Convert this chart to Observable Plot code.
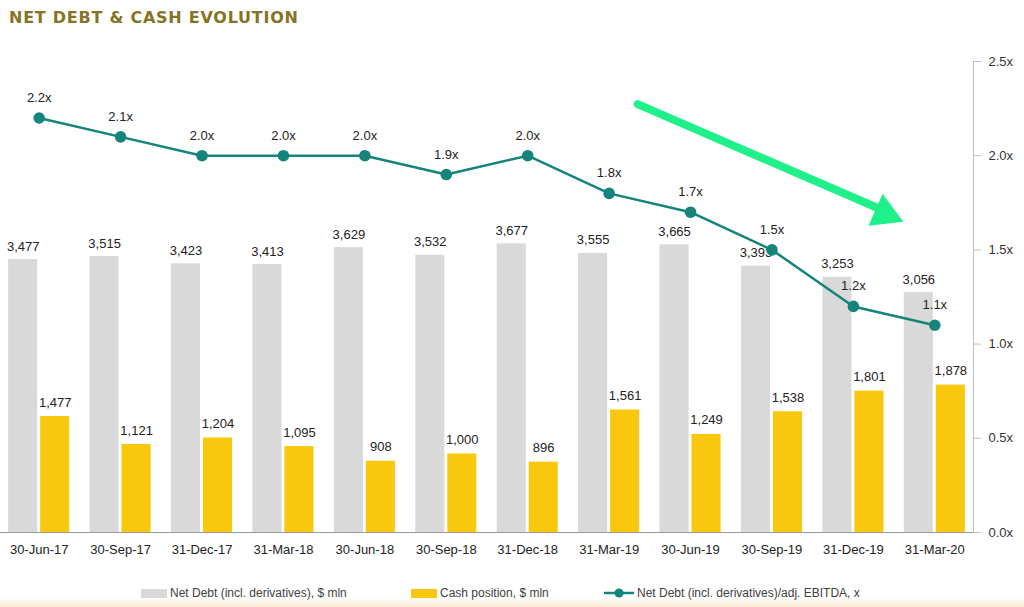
<!DOCTYPE html>
<html>
<head>
<meta charset="utf-8">
<script src="https://cdn.jsdelivr.net/npm/d3@7"></script>
<script src="https://cdn.jsdelivr.net/npm/@observablehq/plot@0.6"></script>
<style>
  html, body { margin: 0; padding: 0; background: #fff; }
  #wrap { position: relative; width: 1024px; height: 607px; overflow: hidden; font-family: "Liberation Sans", Arial, sans-serif; }
  #title { position: absolute; left: 9px; top: 8px; font-family: "DejaVu Sans", sans-serif; font-weight: bold; font-size: 16px; color: #857424; letter-spacing: 0.75px; }
  #chart { position: absolute; left: 0; top: 40px; }
  #legend { position: absolute; top: 585px; left: 0; width: 1024px; height: 16px; font-size: 12px; color: #404040; }
  .item { position: absolute; display: flex; align-items: center; height: 16px; white-space: nowrap; }
  .sw { display: inline-block; width: 26px; height: 9px; margin-right: 3px; }
  #fade { position: absolute; left: 0; bottom: 0; width: 1024px; height: 9px; background: linear-gradient(to bottom, rgba(251,233,214,0), #fbe6d0); }
</style>
</head>
<body>
<div id="wrap">
  <div id="title">NET DEBT &amp; CASH EVOLUTION</div>
  <div id="chart"></div>
  <div id="legend">
    <div class="item" style="left:141px"><span class="sw" style="background:#d9d9d9"></span>Net Debt (incl. derivatives), $ mln</div>
    <div class="item" style="left:411px"><span class="sw" style="background:#f9c80e"></span>Cash position, $ mln</div>
    <div class="item" style="left:603px"><svg width="32" height="12" style="margin-right:2px"><line x1="1" y1="6" x2="31" y2="6" stroke="#15847a" stroke-width="2.5"/><circle cx="16" cy="6" r="4.5" fill="#15847a"/></svg>Net Debt (incl. derivatives)/adj. EBITDA, x</div>
  </div>
  <div id="fade"></div>
</div>
<script>
const periods = ["30-Jun-17","30-Sep-17","31-Dec-17","31-Mar-18","30-Jun-18","30-Sep-18","31-Dec-18","31-Mar-19","30-Jun-19","30-Sep-19","31-Dec-19","31-Mar-20"];
const netDebt = [3477,3515,3423,3413,3629,3532,3677,3555,3665,3393,3253,3056];
const cash = [1477,1121,1204,1095,908,1000,896,1561,1249,1538,1801,1878];
const leverage = [2.2,2.1,2.0,2.0,2.0,1.9,2.0,1.8,1.7,1.5,1.2,1.1];
const leverageTicks = [0,0.5,1.0,1.5,2.0,2.5];

const K = 2400; // ratio -> debt units (6000 / 2.5)
const rows = periods.map((p, i) => ({period: p, debt: netDebt[i], cash: cash[i], lev: leverage[i]}));
const fmt = d3.format(",");
const font = "Liberation Sans, Arial, sans-serif";
const green = "#1ff08a";

const chart = Plot.plot({
  width: 1024,
  height: 540,
  marginLeft: 0,
  marginRight: 51,
  marginTop: 21,
  marginBottom: 48,
  style: {fontFamily: font, fontSize: "13px", color: "#222", background: "transparent"},
  x: {domain: periods, paddingInner: 0.25, paddingOuter: 0.1, round: false, axis: null},
  y: {domain: [0, 6000], axis: null},
  marks: [
    Plot.barY(rows, {x: "period", y: "debt", fill: "#d9d9d9", insetRight: 32}),
    Plot.barY(rows, {x: "period", y: "cash", fill: "#f9c80e", insetLeft: 32}),
    Plot.ruleY([0], {stroke: "#999", strokeWidth: 1}),
    Plot.axisX({tickSize: 0, tickPadding: 12, fontSize: 13, fill: "#222"}),
    Plot.axisY(leverageTicks.map(t => t * K), {anchor: "right", tickSize: 7, tickPadding: 8, stroke: "#bfbfbf", fill: "#333", fontSize: 13, tickFormat: d => (d / K).toFixed(1) + "x"}),
    Plot.frame({anchor: "right", stroke: "#bfbfbf"}),
    Plot.text(rows, {x: "period", y: "debt", text: d => fmt(d.debt), dx: -16, dy: -9, lineAnchor: "bottom", fill: "#222", fontSize: 13}),
    Plot.text(rows, {x: "period", y: "cash", text: d => fmt(d.cash), dx: 16, dy: -10, lineAnchor: "bottom", fill: "#222", fontSize: 13}),
    Plot.lineY(rows, {x: "period", y: d => d.lev * K, stroke: "#15847a", strokeWidth: 2.5}),
    Plot.dot(rows, {x: "period", y: d => d.lev * K, r: 5.8, fill: "#15847a"}),
    Plot.text(rows, {x: "period", y: d => d.lev * K, text: d => d.lev.toFixed(1) + "x", dy: -16, lineAnchor: "bottom", fill: "#222", fontSize: 13}),
    // trend arrow annotation: shaft + filled head
    Plot.arrow([{a: "31-Mar-19", b: "31-Mar-20", y1: 5613, y2: 3819}], {
      x1: "a", x2: "b", y1: "y1", y2: "y2",
      stroke: green, strokeWidth: 8, headLength: 0,
      insetStart: 31, insetEnd: 56, strokeLinecap: "round"
    }),
    Plot.dot([{b: "31-Mar-20", y: 4061}], {
      x: "b", y: "y", dx: -50, symbol: "triangle", r: 13, rotate: 113.5, fill: green, stroke: "none"
    })
  ]
});
document.getElementById("chart").appendChild(chart);
</script>
</body>
</html>
